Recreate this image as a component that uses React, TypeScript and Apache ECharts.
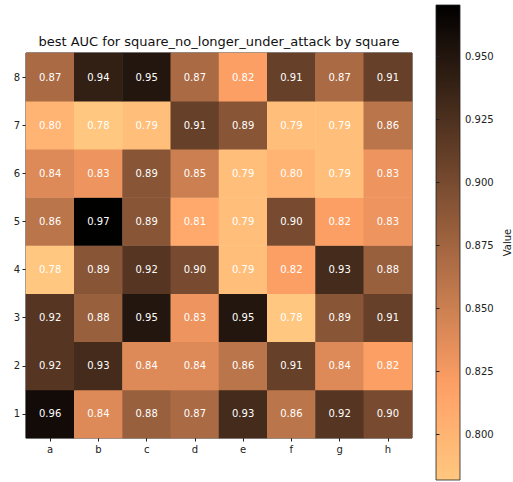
import React, { useEffect, useRef } from "react";
import * as echarts from "echarts";

// Board files (columns) and ranks (rows, bottom to top)
const files = ["a", "b", "c", "d", "e", "f", "g", "h"];
const ranks = ["1", "2", "3", "4", "5", "6", "7", "8"];

// Best AUC per square, one array per rank
const rank1 = [0.96, 0.84, 0.88, 0.87, 0.93, 0.86, 0.92, 0.90];
const rank2 = [0.92, 0.93, 0.84, 0.84, 0.86, 0.91, 0.84, 0.82];
const rank3 = [0.92, 0.88, 0.95, 0.83, 0.95, 0.78, 0.89, 0.91];
const rank4 = [0.78, 0.89, 0.92, 0.90, 0.79, 0.82, 0.93, 0.88];
const rank5 = [0.86, 0.97, 0.89, 0.81, 0.79, 0.90, 0.82, 0.83];
const rank6 = [0.84, 0.83, 0.89, 0.85, 0.79, 0.80, 0.79, 0.83];
const rank7 = [0.80, 0.78, 0.79, 0.91, 0.89, 0.79, 0.79, 0.86];
const rank8 = [0.87, 0.94, 0.95, 0.87, 0.82, 0.91, 0.87, 0.91];
const ranksData = [rank1, rank2, rank3, rank4, rank5, rank6, rank7, rank8];

// Colour bar range and tick values
const colorMin = 0.782;
const colorMax = 0.9705;
const colorTicks = [0.8, 0.825, 0.85, 0.875, 0.9, 0.925, 0.95];

// Reversed "copper" colour map: t = 0 is light, t = 1 is black
function copperR(t: number): string {
  const x = 1 - t;
  const r = Math.min(1, 1.25 * x);
  const g = 0.7812 * x;
  const b = 0.4975 * x;
  const h = (v: number) => Math.round(v * 255);
  return `rgb(${h(r)},${h(g)},${h(b)})`;
}

const STOPS = 24;
const rampColors: string[] = [];
for (let i = 0; i <= STOPS; i++) rampColors.push(copperR(i / STOPS));

const FONT = "DejaVu Sans";

export default function App() {
  const ref = useRef<HTMLDivElement>(null);

  useEffect(() => {
    if (!ref.current) return;
    const chart = echarts.init(ref.current, undefined, { renderer: "svg" });

    const data: [number, number, number][] = [];
    ranksData.forEach((row, yi) =>
      row.forEach((v, xi) => data.push([xi, yi, v]))
    );

    // gradient for the colour bar, top (max) to bottom (min)
    const gradStops = rampColors
      .map((c, i) => ({ offset: 1 - i / STOPS, color: c }))
      .reverse();

    chart.setOption({
      animation: false,
      backgroundColor: "#ffffff",
      textStyle: { fontFamily: FONT },
      title: {
        text: "best AUC for square_no_longer_under_attack by square",
        left: 214,
        textAlign: "center",
        top: 30,
        textStyle: {
          fontFamily: FONT,
          fontSize: 13,
          fontWeight: "normal",
          color: "#111",
        },
      },
      grid: [
        {
          left: 26,
          top: 53,
          width: 386,
          height: 385,
          show: true,
          borderColor: "#222",
          borderWidth: 1,
          backgroundColor: "transparent",
        },
        {
          left: 436,
          top: 5,
          width: 24,
          height: 475,
          show: true,
          borderColor: "#222",
          borderWidth: 0.8,
          backgroundColor: new echarts.graphic.LinearGradient(0, 0, 0, 1, gradStops),
        },
      ],
      xAxis: [
        {
          type: "category",
          gridIndex: 0,
          data: files,
          axisLine: { show: false },
          axisTick: { show: true, alignWithLabel: true, length: 3.5, lineStyle: { color: "#222" } },
          axisLabel: { fontFamily: FONT, fontSize: 10, color: "#222", margin: 6 },
          splitLine: { show: false },
        },
        {
          type: "value",
          gridIndex: 1,
          show: false,
          min: 0,
          max: 1,
        },
      ],
      yAxis: [
        {
          type: "category",
          gridIndex: 0,
          data: ranks,
          axisLine: { show: false },
          axisTick: { show: true, alignWithLabel: true, length: 3.5, lineStyle: { color: "#222" } },
          axisLabel: { fontFamily: FONT, fontSize: 10, color: "#222", margin: 6 },
          splitLine: { show: false },
        },
        {
          type: "value",
          gridIndex: 1,
          position: "right",
          min: colorMin,
          max: colorMax,
          name: "Value",
          nameLocation: "middle",
          nameRotate: 90,
          nameGap: 42,
          nameTextStyle: { fontFamily: FONT, fontSize: 10, color: "#222" },
          axisLine: { show: false },
          axisTick: {
            show: true,
            length: 3.5,
            customValues: colorTicks,
            lineStyle: { color: "#222" },
          },
          axisLabel: {
            fontFamily: FONT,
            fontSize: 10,
            color: "#222",
            margin: 5,
            customValues: colorTicks,
            formatter: (v: number) => v.toFixed(3),
          },
          splitLine: { show: false },
        },
      ],
      visualMap: {
        type: "continuous",
        show: false,
        min: colorMin,
        max: colorMax,
        dimension: 2,
        seriesIndex: 0,
        inRange: { color: rampColors },
      },
      series: [
        {
          type: "heatmap",
          xAxisIndex: 0,
          yAxisIndex: 0,
          data,
          label: {
            show: true,
            color: "#ffffff",
            fontFamily: FONT,
            fontSize: 10,
            formatter: (p: any) => (p.value[2] as number).toFixed(2),
          },
          itemStyle: { borderWidth: 0 },
          emphasis: { disabled: true },
        },
      ],
    });

    return () => chart.dispose();
  }, []);

  return (
    <div
      ref={ref}
      style={{ position: "fixed", left: 0, top: 0, width: 513, height: 482 }}
    />
  );
}
